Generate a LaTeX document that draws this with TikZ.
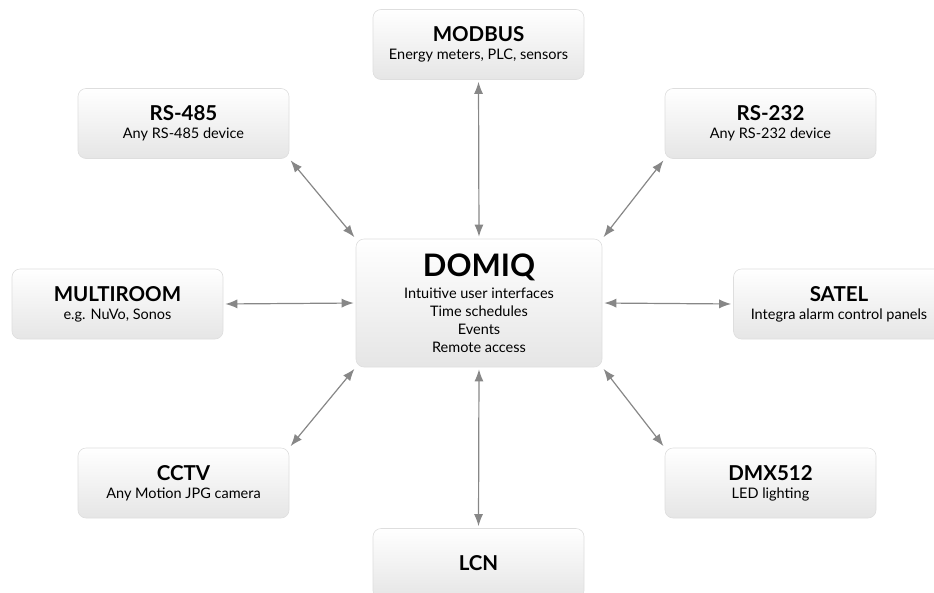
\documentclass[tikz,border=0pt]{standalone}
\usepackage{fontspec}
\setmainfont{Lato}
\usetikzlibrary{arrows.meta}
\tikzset{
  box/.style={rounded corners=8pt, draw=black!13, line width=.6pt,
    top color=white, bottom color=black!10,
    minimum width=211pt, minimum height=70pt, align=center,
    inner sep=2pt, font=\fontsize{14.5}{18}\selectfont},
  link/.style={{Latex[length=12pt,width=9pt]}-{Latex[length=12pt,width=9pt]},
    draw=black!47, line width=1.2pt, shorten <=2pt, shorten >=2pt},
}
\newcommand{\boxtitle}[1]{{\fontsize{20.5}{24}\selectfont\bfseries #1}}
\begin{document}
\begin{tikzpicture}[x=1pt, y=-1pt]
	\useasboundingbox (0,0) rectangle (934,592);

	% centre
	\node[box, minimum width=246pt, minimum height=128pt, font=\fontsize{14.5}{18}\selectfont]
		(domiq) at (479,303)
		{{\fontsize{31}{36}\selectfont\bfseries DOMIQ}\\[4pt]
		 Intuitive user interfaces\\ Time schedules\\ Events\\ Remote access};

	% outer boxes
	\node[box] (modbus)    at (478.5,44.5) {\boxtitle{MODBUS}\\ Energy meters, PLC, sensors};
	\node[box] (rs485)     at (183.5,123.5) {\boxtitle{RS-485}\\ Any RS-485 device};
	\node[box] (rs232)     at (770.5,123.5) {\boxtitle{RS-232}\\ Any RS-232 device};
	\node[box] (multiroom) at (117.5,304) {\boxtitle{MULTIROOM}\\ e.g. NuVo, Sonos};
	\node[box] (satel)     at (839,304) {\boxtitle{SATEL}\\ Integra alarm control panels};
	\node[box] (cctv)      at (183.5,483) {\boxtitle{CCTV}\\ Any Motion JPG camera};
	\node[box] (dmx)       at (770.5,483) {\boxtitle{DMX512}\\ LED lighting};
	\node[box] (lcn)       at (478.5,563.5) {\boxtitle{LCN}};

	% links
	\draw[link] (modbus.south) -- (domiq.north);
	\draw[link] (rs485.south east) -- (domiq.north west);
	\draw[link] (rs232.south west) -- (domiq.north east);
	\draw[link] (multiroom.east) -- (domiq.west);
	\draw[link] (satel.west) -- (domiq.east);
	\draw[link] (cctv.north east) -- (domiq.south west);
	\draw[link] (dmx.north west) -- (domiq.south east);
	\draw[link] (lcn.north) -- (domiq.south);
\end{tikzpicture}
\end{document}
